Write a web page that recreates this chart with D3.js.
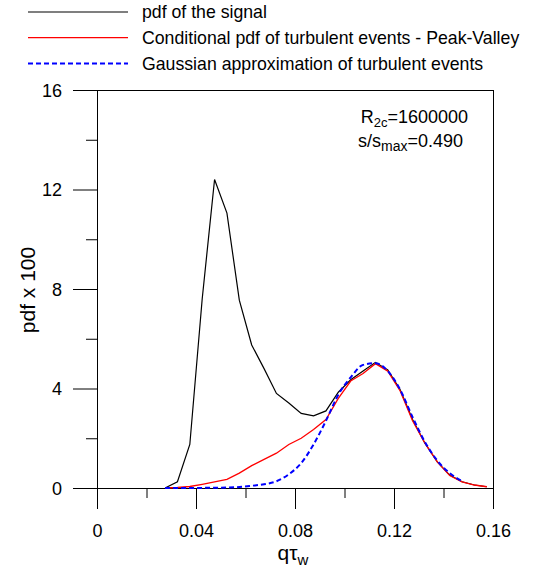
<!DOCTYPE html>
<html>
<head>
<meta charset="utf-8">
<script src="https://cdn.jsdelivr.net/npm/d3@7"></script>
<style>
  body { margin: 0; background: #fff; }
  text { font-family: "Liberation Sans", Arial, sans-serif; fill: #000; }
</style>
</head>
<body>
<div id="chart"></div>
<script>
// q*tau_w bin centres
const qValues = [0.0275, 0.0325, 0.0375, 0.0425, 0.0475, 0.0525, 0.0575, 0.0625, 0.0675,
  0.0725, 0.0775, 0.0825, 0.0875, 0.0925, 0.0975, 0.1025, 0.1075, 0.1125, 0.1175,
  0.1225, 0.1275, 0.1325, 0.1375, 0.1425, 0.1475, 0.1525, 0.1575];

// pdf x 100
const signalPdf = [0, 0.25, 1.75, 7.6, 12.4, 11.05, 7.55, 5.75, 4.8, 3.8, 3.42, 3.0, 2.9,
  3.1, 3.85, 4.35, 4.7, 5.05, 4.75, 3.95, 2.75, 1.8, 1.05, 0.52, 0.25, 0.12, 0.05];
const peakValleyPdf = [0, 0.02, 0.06, 0.15, 0.25, 0.35, 0.6, 0.9, 1.15, 1.4, 1.75, 2.0, 2.35,
  2.75, 3.6, 4.3, 4.6, 5.0, 4.7, 3.9, 2.7, 1.8, 1.05, 0.5, 0.25, 0.12, 0.05];
const gaussPdf = [0, 0, 0, 0.005, 0.01, 0.02, 0.04, 0.09, 0.15, 0.27, 0.55, 1.0, 1.75,
  2.7, 3.75, 4.45, 4.95, 5.02, 4.7, 3.95, 2.85, 1.85, 1.1, 0.6, 0.28];

const xTicks = [0, 0.04, 0.08, 0.12, 0.16];
const xMinor = [0.02, 0.06, 0.10, 0.14];
const yTicks = [0, 4, 8, 12, 16];
const yMinor = [2, 6, 10, 14];

const legendItems = [
  {label: "pdf of the signal", color: "#000", dash: null, w: 1.2},
  {label: "Conditional pdf of turbulent events - Peak-Valley", color: "#ff0000", dash: null, w: 1.3},
  {label: "Gaussian approximation of turbulent events", color: "#0000ff", dash: "5,3", w: 2}
];

var width = 547, height = 572;
var plotL = 97, plotR = 493, plotT = 90, plotB = 488;

var svg = d3.select("#chart").append("svg")
  .attr("width", width)
  .attr("height", height);

var x = d3.scaleLinear().domain([0, 0.16]).range([plotL, plotR]);
var y = d3.scaleLinear().domain([0, 16]).range([plotB, plotT]);

// frame
svg.append("rect")
  .attr("x", plotL + 0.5).attr("y", plotT + 0.5)
  .attr("width", plotR - plotL).attr("height", plotB - plotT)
  .attr("fill", "none").attr("stroke", "#000").attr("stroke-width", 1);

// x axis (major + minor in separate groups)
var xAxis = svg.append("g")
  .attr("transform", "translate(0," + plotB + ")")
  .call(d3.axisBottom(x).tickValues(xTicks).tickSize(21).tickSizeOuter(0)
    .tickFormat(d => d === 0 ? "0" : d3.format(".2f")(d)));
svg.append("g")
  .attr("transform", "translate(0," + plotB + ")")
  .call(d3.axisBottom(x).tickValues(xMinor).tickSize(10).tickSizeOuter(0).tickFormat(""))
  .select(".domain").remove();
xAxis.select(".domain").remove();
xAxis.selectAll("text")
  .attr("y", 49).attr("dy", 0)
  .style("font-size", "18px")
  .style("font-family", "'Liberation Sans', Arial, sans-serif");

// y axis
var yAxis = svg.append("g")
  .attr("transform", "translate(" + plotL + ",0)")
  .call(d3.axisLeft(y).tickValues(yTicks).tickSize(24).tickSizeOuter(0));
svg.append("g")
  .attr("transform", "translate(" + plotL + ",0)")
  .call(d3.axisLeft(y).tickValues(yMinor).tickSize(11).tickSizeOuter(0).tickFormat(""))
  .select(".domain").remove();
yAxis.select(".domain").remove();
yAxis.selectAll("text")
  .attr("x", -35).attr("dy", "0.35em")
  .style("font-size", "18px")
  .style("font-family", "'Liberation Sans', Arial, sans-serif");
svg.selectAll(".tick line").attr("stroke", "#000");

// axis titles
svg.append("text")
  .attr("transform", "translate(35,290) rotate(-90)")
  .style("text-anchor", "middle")
  .style("font-size", "21px")
  .text("pdf x 100");

var xt = svg.append("text")
  .attr("x", 293).attr("y", 560)
  .style("text-anchor", "middle")
  .style("font-size", "21px");
xt.append("tspan").text("q\u03c4");
xt.append("tspan").attr("dy", 5).style("font-size", "15px").text("w");

// curves
var line = d3.line()
  .x(d => x(d[0]))
  .y(d => y(d[1]));

svg.append("path")
  .datum(qValues.map((q, i) => [q, signalPdf[i]]))
  .attr("d", line)
  .attr("fill", "none").attr("stroke", "#000").attr("stroke-width", 1.2);

svg.append("path")
  .datum(qValues.map((q, i) => [q, peakValleyPdf[i]]))
  .attr("d", line)
  .attr("fill", "none").attr("stroke", "#ff0000").attr("stroke-width", 1.3);

svg.append("path")
  .datum(gaussPdf.map((v, i) => [qValues[i], v]))
  .attr("d", line.curve(d3.curveMonotoneX))
  .attr("fill", "none").attr("stroke", "#0000ff").attr("stroke-width", 2)
  .attr("stroke-dasharray", "5,3");

// annotation
var a1 = svg.append("text")
  .attr("x", 468).attr("y", 123)
  .style("text-anchor", "end")
  .style("font-size", "18px");
a1.append("tspan").text("R");
a1.append("tspan").attr("dy", 4).style("font-size", "13px").text("2c");
a1.append("tspan").attr("dy", -4).text("=1600000");

var a2 = svg.append("text")
  .attr("x", 463).attr("y", 147)
  .style("text-anchor", "end")
  .style("font-size", "18px");
a2.append("tspan").text("s/s");
a2.append("tspan").attr("dy", 4).style("font-size", "14px").text("max");
a2.append("tspan").attr("dy", -4).text("=0.490");

// legend
var legend = svg.append("g");
legendItems.forEach(function(item, i) {
  var ly = 12 + i * 25.7;
  legend.append("line")
    .attr("x1", 28).attr("x2", 128)
    .attr("y1", ly).attr("y2", ly)
    .attr("stroke", item.color)
    .attr("stroke-width", item.w)
    .attr("stroke-dasharray", item.dash);
  legend.append("text")
    .attr("x", 142).attr("y", ly)
    .attr("dy", "0.35em")
    .style("font-size", "17.7px")
    .text(item.label);
});
</script>
</body>
</html>
